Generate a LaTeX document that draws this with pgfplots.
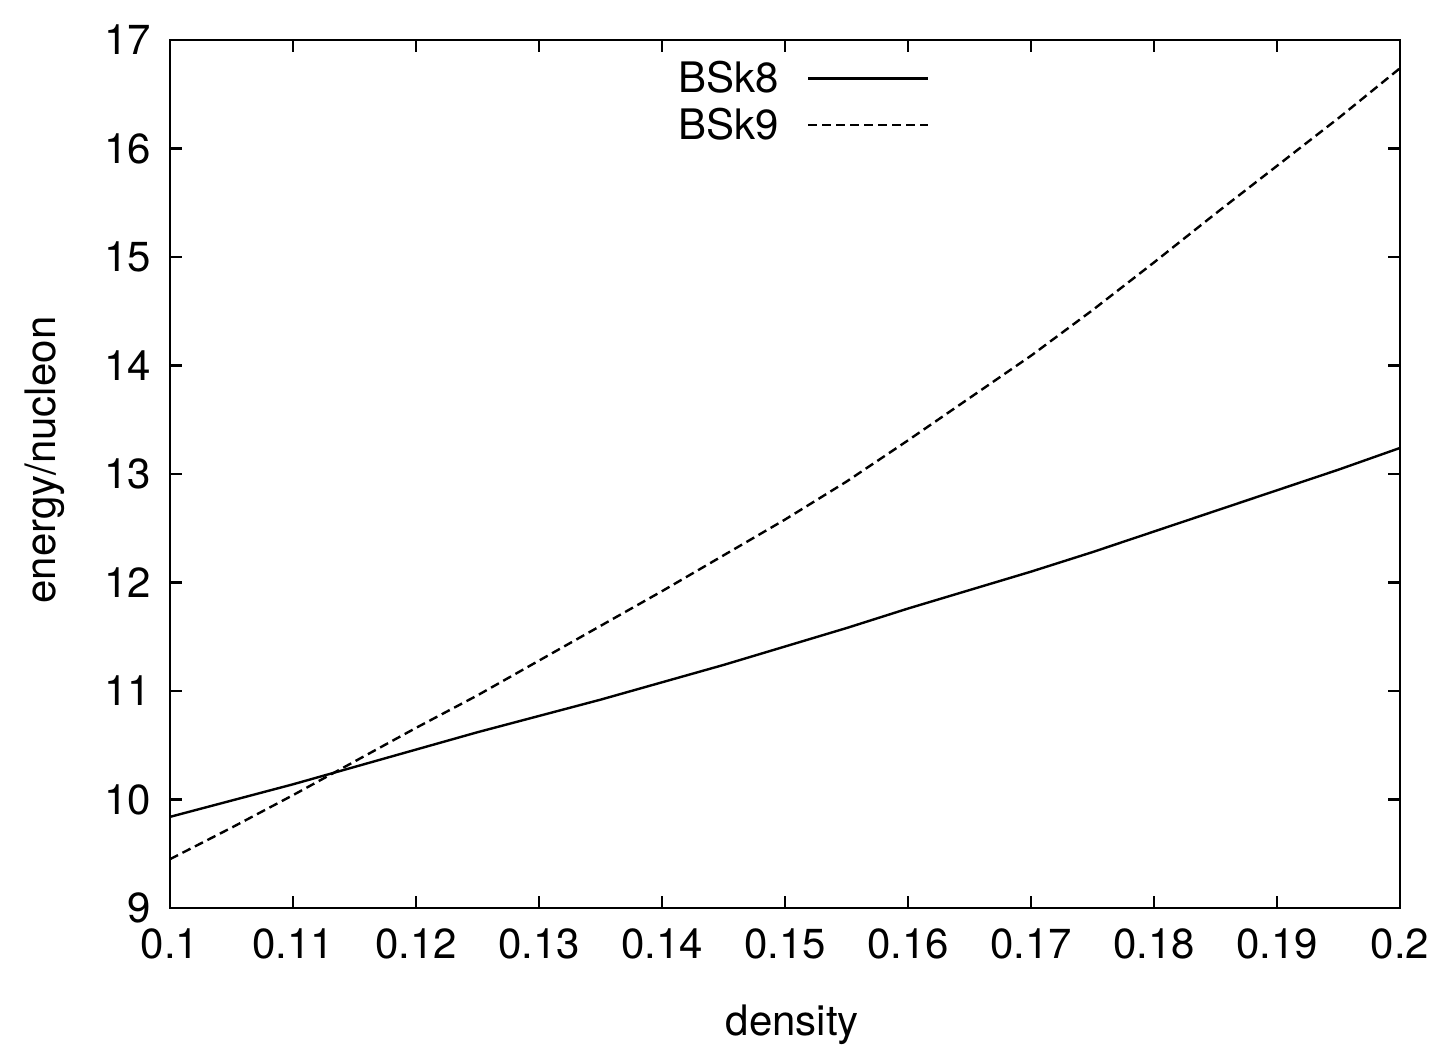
\documentclass[border=0pt]{standalone}
\usepackage{fontspec}
\setmainfont{TeX Gyre Heros}
\usepackage{pgfplots}
\pgfplotsset{compat=1.18}
\begin{document}
\begin{tikzpicture}
\useasboundingbox (-85pt,-75.5pt) rectangle (637.5pt,454pt);
\begin{axis}[
  at={(0,0)}, anchor=south west,
  scale only axis, width=615pt, height=434pt,
  xmin=0.1, xmax=0.2, ymin=9, ymax=17,
  xtick={0.1,0.11,0.12,0.13,0.14,0.15,0.16,0.17,0.18,0.19,0.2},
  xticklabels={0.1,0.11,0.12,0.13,0.14,0.15,0.16,0.17,0.18,0.19,0.2},
  ytick={9,10,11,12,13,14,15,16,17},
  tick align=inside, xtick pos=both, ytick pos=both,
  major tick length=6pt,
  axis line style={line width=1.1pt},
  every tick/.style={line width=1.1pt, black},
  /pgf/number format/assume math mode=true,
  tick label style={font=\fontsize{21}{25}\selectfont},
  xticklabel style={yshift=-7pt},
  yticklabel style={xshift=-6pt},
  label style={font=\fontsize{21}{25}\selectfont},
  xlabel={density},
  ylabel={energy/nucleon},
  xlabel style={at={(axis description cs:0.506,-0.135)}, anchor=center},
  ylabel style={at={(axis description cs:-0.1016,0.516)}, anchor=center},
  legend plot pos=right,
  legend cell align=right,
  legend image code/.code={\draw[#1] (0pt,0pt) -- (60pt,0pt);},
  legend style={draw=none, fill=none, font=\fontsize{21}{25}\selectfont,
    at={(axis description cs:0.6225,0.985)}, anchor=north east,
    row sep=2pt, column sep=12pt},
]
\addplot[black, line width=1.2pt] coordinates {
(0.100,9.84) (0.105,9.99) (0.110,10.14) (0.115,10.30) (0.120,10.46)
(0.125,10.62) (0.130,10.77) (0.135,10.92) (0.140,11.08) (0.145,11.24)
(0.150,11.41) (0.155,11.58) (0.160,11.76) (0.165,11.93) (0.170,12.10)
(0.175,12.28) (0.180,12.47) (0.185,12.66) (0.190,12.85) (0.195,13.04)
(0.200,13.24)};
\addlegendentry{BSk8}
\addplot[black, line width=1.2pt, dash pattern=on 4.5pt off 2.5pt] coordinates {
(0.100,9.45) (0.105,9.74) (0.110,10.04) (0.115,10.35) (0.120,10.66)
(0.125,10.96) (0.130,11.28) (0.135,11.60) (0.140,11.92) (0.145,12.25)
(0.150,12.58) (0.155,12.93) (0.160,13.31) (0.165,13.70) (0.170,14.09)
(0.175,14.51) (0.180,14.95) (0.185,15.40) (0.190,15.84) (0.195,16.28)
(0.200,16.74)};
\addlegendentry{BSk9}
\end{axis}
\end{tikzpicture}
\end{document}
